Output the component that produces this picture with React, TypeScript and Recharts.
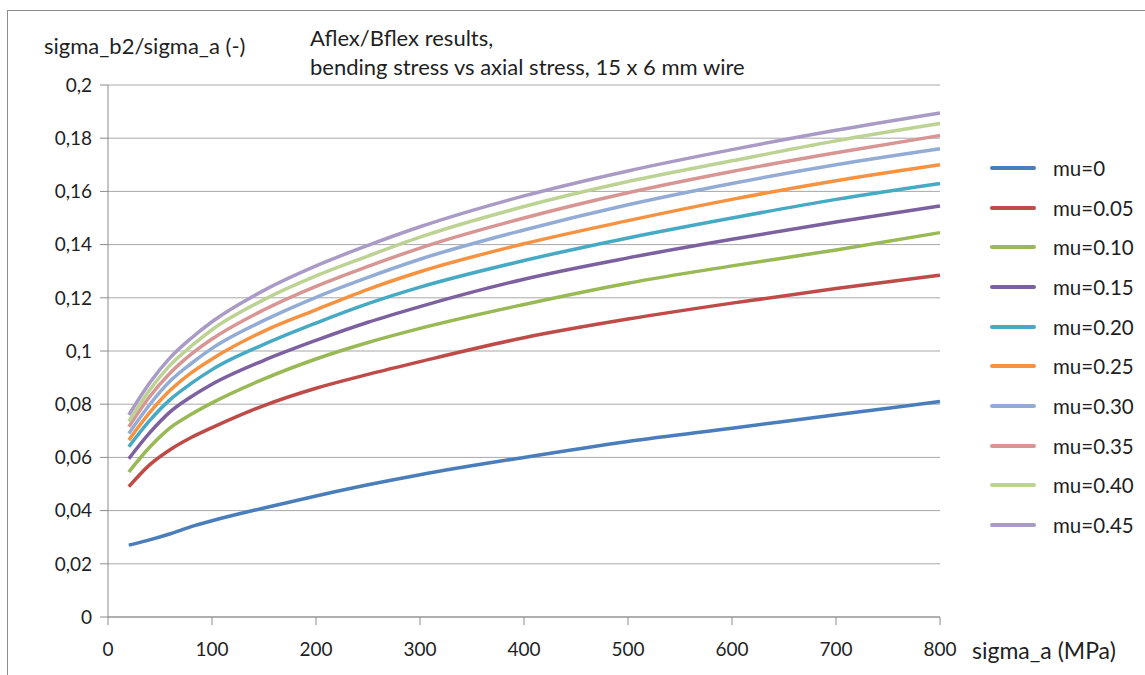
import React from "react";
import { LineChart, Line, XAxis, YAxis, CartesianGrid } from "recharts";

const sigmaA = [20, 40, 60, 80, 100, 150, 200, 250, 300, 400, 500, 600, 700, 800];

const mu000 = [0.027, 0.029, 0.0313, 0.034, 0.0362, 0.041, 0.0455, 0.0497, 0.0535, 0.06, 0.066, 0.071, 0.076, 0.081];
const mu005 = [0.049, 0.0572, 0.063, 0.0675, 0.0712, 0.0795, 0.086, 0.0912, 0.096, 0.105, 0.112, 0.118, 0.1235, 0.1285];
const mu010 = [0.0545, 0.0638, 0.0712, 0.0762, 0.0805, 0.0895, 0.097, 0.1032, 0.1085, 0.1175, 0.1255, 0.132, 0.138, 0.1445];
const mu015 = [0.0595, 0.0692, 0.0772, 0.0828, 0.0875, 0.0965, 0.104, 0.1108, 0.1167, 0.127, 0.135, 0.142, 0.1485, 0.1545];
const mu020 = [0.064, 0.0738, 0.0818, 0.0878, 0.093, 0.1025, 0.1105, 0.1178, 0.124, 0.134, 0.1425, 0.15, 0.157, 0.163];
const mu025 = [0.0665, 0.0768, 0.0853, 0.0918, 0.097, 0.1075, 0.1155, 0.1232, 0.1298, 0.1403, 0.149, 0.157, 0.164, 0.17];
const mu030 = [0.069, 0.0798, 0.0888, 0.0953, 0.101, 0.1115, 0.1202, 0.1277, 0.1345, 0.1455, 0.155, 0.163, 0.17, 0.176];
const mu035 = [0.0715, 0.0828, 0.0918, 0.0988, 0.1045, 0.1155, 0.1243, 0.1318, 0.1387, 0.15, 0.1595, 0.1675, 0.1745, 0.181];
const mu040 = [0.0735, 0.0853, 0.0948, 0.1018, 0.108, 0.1193, 0.1282, 0.1357, 0.1428, 0.1543, 0.1637, 0.1715, 0.179, 0.1855];
const mu045 = [0.076, 0.088, 0.0976, 0.1048, 0.111, 0.1228, 0.132, 0.1397, 0.1467, 0.1583, 0.1677, 0.1757, 0.183, 0.1895];

const xTicks = [0, 100, 200, 300, 400, 500, 600, 700, 800];
const yTicks = [0, 0.02, 0.04, 0.06, 0.08, 0.1, 0.12, 0.14, 0.16, 0.18, 0.2];

const series = [
  { key: "mu000", name: "mu=0", values: mu000, color: "#4a7ebb" },
  { key: "mu005", name: "mu=0.05", values: mu005, color: "#be4b48" },
  { key: "mu010", name: "mu=0.10", values: mu010, color: "#98b954" },
  { key: "mu015", name: "mu=0.15", values: mu015, color: "#7d60a0" },
  { key: "mu020", name: "mu=0.20", values: mu020, color: "#46aac5" },
  { key: "mu025", name: "mu=0.25", values: mu025, color: "#f69240" },
  { key: "mu030", name: "mu=0.30", values: mu030, color: "#93acd6" },
  { key: "mu035", name: "mu=0.35", values: mu035, color: "#d79593" },
  { key: "mu040", name: "mu=0.40", values: mu040, color: "#bcd393" },
  { key: "mu045", name: "mu=0.45", values: mu045, color: "#a99bc6" },
];

const data = sigmaA.map((x, i) => {
  const row: Record<string, number> = { x };
  series.forEach((s) => (row[s.key] = s.values[i]));
  return row;
});

const FONT = "Lato, 'Open Sans', sans-serif";
const TEXT = "#1f1f1f";
const fmtY = (v: number) => (v === 0 ? "0" : String(+v.toFixed(2)).replace(".", ","));

export default function App() {
  return (
    <div
      style={{
        position: "absolute",
        left: 7,
        top: 10,
        width: 1200,
        height: 720,
        border: "1.5px solid #8c8c8c",
        background: "#fff",
        fontFamily: FONT,
        color: TEXT,
      }}
    >
      <div style={{ position: "absolute", left: 36, top: 21, fontSize: 22 }}>sigma_b2/sigma_a (-)</div>
      <div style={{ position: "absolute", left: 302, top: 12, fontSize: 22, lineHeight: "29px" }}>
        Aflex/Bflex results,
        <br />
        bending stress vs axial stress, 15 x 6 mm wire
      </div>
      <div style={{ position: "absolute", left: 964, top: 625, fontSize: 23 }}>sigma_a (MPa)</div>

      {/* legend */}
      <div style={{ position: "absolute", left: 982, top: 137, fontSize: 20.5 }}>
        {series.map((s) => (
          <div key={s.key} style={{ display: "flex", alignItems: "center", height: 39.7 }}>
            <span style={{ width: 46, height: 4, borderRadius: 2, background: s.color, marginRight: 17 }} />
            <span>{s.name}</span>
          </div>
        ))}
      </div>

      <LineChart
        width={1137}
        height={664}
        data={data}
        margin={{ top: 74, right: 205, bottom: 18, left: 40 }}
      >
        <CartesianGrid vertical={false} stroke="#a8a8a8" strokeWidth={1} />
        <XAxis
          dataKey="x"
          type="number"
          domain={[0, 800]}
          ticks={xTicks}
          interval={0}
          height={40}
          tickSize={8}
          tickMargin={18}
          stroke="#8c8c8c"
          tick={{ fill: TEXT, fontSize: 19, fontFamily: FONT }}
        />
        <YAxis
          domain={[0, 0.2]}
          ticks={yTicks}
          interval={0}
          width={60}
          tickSize={8}
          tickMargin={8}
          tickFormatter={fmtY}
          stroke="#8c8c8c"
          tick={{ fill: TEXT, fontSize: 19, fontFamily: FONT }}
        />
        {series.map((s) => (
          <Line
            key={s.key}
            dataKey={s.key}
            name={s.name}
            type="monotone"
            stroke={s.color}
            strokeWidth={3.5}
            dot={false}
            isAnimationActive={false}
          />
        ))}
      </LineChart>
    </div>
  );
}
